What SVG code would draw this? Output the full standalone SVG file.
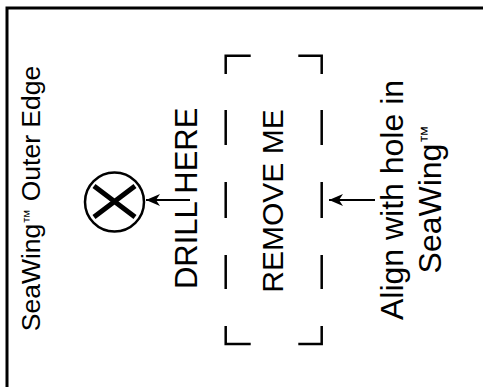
<svg xmlns="http://www.w3.org/2000/svg" width="483" height="387" viewBox="0 0 483 387">
<defs>
<style>
.t{font-family:"Liberation Sans",Arial,sans-serif;fill:#000;text-anchor:middle}
.ln{fill:none;stroke:#000;stroke-width:2.5}
.arr{fill:none;stroke:#000;stroke-width:2}
</style>
<marker id="ah" markerUnits="userSpaceOnUse" markerWidth="16" markerHeight="14" viewBox="0 -7 16 14" refX="14" refY="0" orient="auto">
<path d="M14,0 L0,-6 L4,0 L0,6 Z" fill="#000"/>
</marker>
</defs>
<rect width="483" height="387" fill="#fff"/>
<path d="M7,387 V8 H483" fill="none" stroke="#000" stroke-width="3"/>
<g id="outer-edge">
<text class="t" font-size="26.5" transform="translate(40,198.5) rotate(-90)">SeaWing<tspan font-size="15" dy="-6">™</tspan><tspan dy="6"> Outer Edge</tspan></text>
</g>
<g id="drill-mark">
<circle cx="114.5" cy="202" r="29.5" fill="none" stroke="#000" stroke-width="2.5"/>
<path d="M94,186 L135,217 M94,217 L135,186" stroke="#000" stroke-width="5" fill="none"/>
</g>
<g id="drill-here">
<text class="t" font-size="31" transform="translate(197,198.3) rotate(-90)">DRILL HERE</text>
</g>
<g id="remove-me">
<path class="ln" d="M250.7,55.7 H225.7 V74 M298.3,55.7 H321.7 V74 M225.7,110 V145 M225.7,182 V218 M225.7,255 V289 M321.7,110 V145 M321.7,182 V218 M321.7,255 V289 M225.7,326 V344 H250.7 M321.7,326 V344 H298.3"/>
<text class="t" font-size="30" transform="translate(283,201) rotate(-90)">REMOVE ME</text>
</g>
<g id="align-note">
<text class="t" font-size="32" transform="translate(403,200) rotate(-90)">Align with hole in</text>
<text class="t" font-size="32" transform="translate(441,199.5) rotate(-90)">SeaWing<tspan font-size="18" dy="-8">™</tspan></text>
</g>
<g id="connectors">
<line class="arr" x1="190" y1="200" x2="146" y2="200" marker-end="url(#ah)"/>
<line class="arr" x1="375" y1="200" x2="329" y2="200" marker-end="url(#ah)"/>
</g>
</svg>
